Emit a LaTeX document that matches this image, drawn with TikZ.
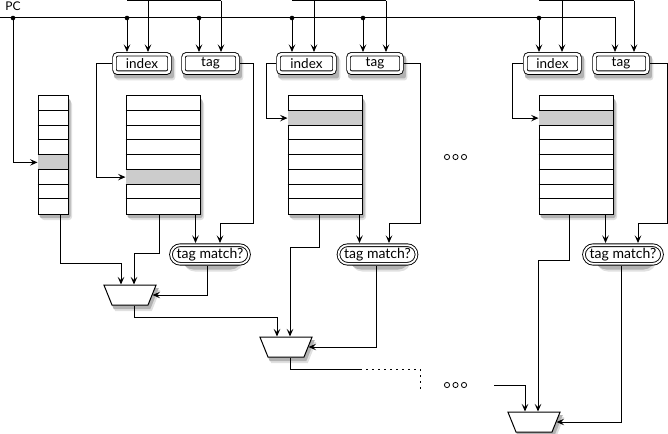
\documentclass[tikz,border=0pt]{standalone}
\usepackage{fontspec}
\setmainfont{Lato}
\usetikzlibrary{arrows.meta,shapes.geometric,shapes.misc,backgrounds}

\tikzset{
  wire/.style={line width=1pt},
  arr/.style={wire, -{Stealth[length=7.5pt,width=6.5pt,inset=3pt]}},
  haze/.style={fill=black!12},
  umbra/.style={fill=black!30},
  tbl/.style={draw, line width=1pt, fill=white, minimum height=118pt, inner sep=0pt},
  hit/.style={fill=black!20},
  field/.style={draw, line width=0.9pt, double, double distance=2.6pt, rounded corners=3pt,
    fill=white, minimum height=18.4pt, inner sep=0pt, outer sep=2.3pt,
    font=\fontsize{13.5}{15}\selectfont},
  match/.style={rounded rectangle, draw, line width=0.9pt, double, double distance=1.8pt,
    fill=white, minimum width=78pt, minimum height=18.6pt, inner sep=0pt, outer sep=2.2pt,
    font=\fontsize{14}{16}\selectfont},
  mux/.style={trapezium, shape border rotate=180, trapezium angle=68,
    draw, line width=1pt, fill=white, minimum width=0pt, minimum height=0pt,
    inner xsep=18pt, inner ysep=10pt},
  junction/.style={circle, fill, inner sep=0pt, minimum size=4.6pt},
}

\begin{document}
\begin{tikzpicture}[x=1pt,y=-1pt]
\useasboundingbox (0,0) rectangle (668,433);

% PC bus
\node[font=\fontsize{12}{14}\selectfont] (pc) at (13,6) {PC};
\coordinate (pcL) at (0,18);
\coordinate (pcE) at (615,18);

% index / tag fields
\node[field, minimum width=55pt] (idx1) at (142,63.5) {index};
\node[field, minimum width=54pt] (tag1) at (210.5,63.5) {tag};
\node[field, minimum width=56pt] (idx2) at (306.5,63.5) {index};
\node[field, minimum width=53pt] (tag2) at (375,63.5) {tag};
\node[field, minimum width=54pt] (idx3) at (552.5,63.5) {index};
\node[field, minimum width=53pt] (tag3) at (621,63.5) {tag};

% tables
\node[tbl, minimum width=30pt] (bht) at (53,155) {};
\node[tbl, minimum width=74pt] (way1) at (163,155) {};
\node[tbl, minimum width=74pt] (way2) at (325,155) {};
\node[tbl, minimum width=74pt] (way3) at (576,155) {};
\fill[hit] ([xshift=0.5pt,yshift=-59pt]bht.north west) rectangle ([xshift=-0.5pt,yshift=-73.75pt]bht.north east);
\fill[hit] ([xshift=0.5pt,yshift=-73.75pt]way1.north west) rectangle ([xshift=-0.5pt,yshift=-88.5pt]way1.north east);
\fill[hit] ([xshift=0.5pt,yshift=-14.75pt]way2.north west) rectangle ([xshift=-0.5pt,yshift=-29.5pt]way2.north east);
\fill[hit] ([xshift=0.5pt,yshift=-14.75pt]way3.north west) rectangle ([xshift=-0.5pt,yshift=-29.5pt]way3.north east);
\foreach \t in {bht,way1,way2,way3}
  \foreach \k in {1,...,7}
    \draw[wire] ([yshift=-\k*14.75pt]\t.north west) -- ([yshift=-\k*14.75pt]\t.north east);

% tag compare
\node[match] (tm1) at (210,254.5) {tag match?};
\node[match] (tm2) at (377.5,254.5) {tag match?};
\node[match] (tm3) at (623,254.5) {tag match?};

% muxes
\node[mux] (mux1) at (130,295) {};
\node[mux] (mux2) at (286,347) {};
\node[mux] (mux3) at (534,422) {};

% shadows
\begin{scope}[on background layer]
  \foreach \n in {bht,way1,way2,way3,idx1,tag1,idx2,tag2,idx3,tag3} {
    \fill[haze, rounded corners=3pt] ([xshift=3.5pt,yshift=-5.5pt]\n.north west) rectangle ([xshift=3.5pt,yshift=-5.5pt]\n.south east);
    \fill[umbra, rounded corners=2pt] ([xshift=2pt,yshift=-3.5pt]\n.north west) rectangle ([xshift=2pt,yshift=-3.5pt]\n.south east);
  }
  \foreach \n in {tm1,tm2,tm3} {
    \fill[haze, rounded corners=11pt] ([xshift=3.5pt,yshift=-5.5pt]\n.north west) rectangle ([xshift=3.5pt,yshift=-5.5pt]\n.south east);
    \fill[umbra, rounded corners=11pt] ([xshift=2pt,yshift=-3.5pt]\n.north west) rectangle ([xshift=2pt,yshift=-3.5pt]\n.south east);
  }
  \foreach \n in {mux1,mux2,mux3} {
    \fill[haze] ([xshift=3.5pt,yshift=-5.5pt]\n.top left corner) -- ([xshift=3.5pt,yshift=-5.5pt]\n.top right corner)
      -- ([xshift=3.5pt,yshift=-5.5pt]\n.bottom right corner) -- ([xshift=3.5pt,yshift=-5.5pt]\n.bottom left corner) -- cycle;
    \fill[umbra] ([xshift=2pt,yshift=-3.5pt]\n.top left corner) -- ([xshift=2pt,yshift=-3.5pt]\n.top right corner)
      -- ([xshift=2pt,yshift=-3.5pt]\n.bottom right corner) -- ([xshift=2pt,yshift=-3.5pt]\n.bottom left corner) -- cycle;
  }
\end{scope}

% bus and taps
\draw[arr] (pcL) -- (pcE) -- (pcE |- tag3.north);
\node[junction] (d0) at (13,18) {};
\node[junction] (d1) at (127,18) {};
\node[junction] (d2) at (199,18) {};
\node[junction] (d3) at (292,18) {};
\node[junction] (d4) at (363,18) {};
\node[junction] (d5) at (539,18) {};
\draw[arr] (d1) -- (d1 |- idx1.north);
\draw[arr] (d2) -- (d2 |- tag1.north);
\draw[arr] (d3) -- (d3 |- idx2.north);
\draw[arr] (d4) -- (d4 |- tag2.north);
\draw[arr] (d5) -- (d5 |- idx3.north);
\draw[arr] (d0) |- ([yshift=-7.4pt]bht.west);

% feeds from above
\coordinate (h1) at (127,0.6);
\coordinate (h2) at (292,0.6);
\coordinate (h3) at (539,0.6);
\coordinate (s1) at (148,0.6);
\coordinate (s2) at (221,0.6);
\coordinate (s3) at (314,0.6);
\coordinate (s4) at (386,0.6);
\coordinate (s5) at (562,0.6);
\coordinate (s6) at (634,0.6);
\draw[wire] (h1) -- (s2);
\draw[wire] (h2) -- (s4);
\draw[wire] (h3) -- (s6);
\draw[arr] (s1) -- (s1 |- idx1.north);
\draw[arr] (s2) -- (s2 |- tag1.north);
\draw[arr] (s3) -- (s3 |- idx2.north);
\draw[arr] (s4) -- (s4 |- tag2.north);
\draw[arr] (s5) -- (s5 |- idx3.north);
\draw[arr] (s6) -- (s6 |- tag3.north);

% index into tables
\draw[arr] (idx1.west) -| ([xshift=-29pt,yshift=-22.1pt]way1.west) -- ([yshift=-22.1pt]way1.west);
\draw[arr] (idx2.west) -| ([xshift=-21pt,yshift=36.9pt]way2.west) -- ([yshift=36.9pt]way2.west);
\draw[arr] (idx3.west) -| ([xshift=-26pt,yshift=36.9pt]way3.west) -- ([yshift=36.9pt]way3.west);

% tag into compare
\coordinate (c1) at (253,223);
\coordinate (c2) at (420,223);
\coordinate (c3) at (667,223);
\draw[arr] (tag1.east) -| (c1) -| ([xshift=10pt]tm1.north);
\draw[arr] (tag2.east) -| (c2) -| ([xshift=11.5pt]tm2.north);
\draw[arr] (tag3.east) -| (c3) -| ([xshift=15pt]tm3.north);

% table outputs
\coordinate (o1) at ([xshift=-5pt]way1.south east);
\coordinate (o3) at ([xshift=-3pt]way2.south east);
\coordinate (o5) at ([xshift=-8pt]way3.south east);
\draw[arr] (o1) -- (o1 |- tm1.north);
\draw[arr] (o3) -- (o3 |- tm2.north);
\draw[arr] (o5) -- (o5 |- tm3.north);
\coordinate (o0) at ([xshift=7pt]bht.south);
\coordinate (o2) at ([xshift=-4pt]way1.south);
\coordinate (o4) at ([xshift=-6pt]way2.south);
\coordinate (o6) at ([xshift=-7pt]way3.south);
\coordinate (b1) at (121,263);
\coordinate (b2) at (134,253);
\coordinate (b4) at (290,247);
\coordinate (b6) at (538,260);
\draw[arr] (o0) |- (b1) -- (b1 |- mux1.north);
\draw[arr] (o2) |- (b2) -- (b2 |- mux1.north);
\draw[arr] (o4) |- (b4) -- (b4 |- mux2.north);
\draw[arr] (o6) |- (b6) -- (b6 |- mux3.north);

% compare into muxes
\coordinate (q1) at ([xshift=-3pt]tm1.south);
\coordinate (q2) at ([xshift=-1.5pt]tm2.south);
\coordinate (q3) at ([xshift=-2pt]tm3.south);
\draw[arr] (q1) |- (mux1.east);
\draw[arr] (q2) |- (mux2.east);
\draw[arr] (q3) |- (mux3.east);

% mux chain
\coordinate (r1) at ([xshift=4pt]mux1.south);
\coordinate (e1) at (277,317);
\draw[arr] (r1) |- (e1) -- (e1 |- mux2.north);
\coordinate (r2) at ([xshift=4pt]mux2.south);
\coordinate (g1) at (360,369);
\coordinate (g2) at (420,369);
\coordinate (g3) at (420,392);
\draw[wire] (r2) |- (g1);
\draw[wire, dash pattern=on 1.5pt off 4.5pt] (g1) -- (g2) -- (g3);
\coordinate (f1) at (494,385);
\draw[arr] (f1) -| ([xshift=-9pt]mux3.north);

% more ways
\foreach \i in {0,1,2} {
  \draw[line width=0.8pt] (447+8.5*\i,157) circle (2.6);
  \draw[line width=0.8pt] (447+8.5*\i,385) circle (2.6);
}
\end{tikzpicture}
\end{document}
